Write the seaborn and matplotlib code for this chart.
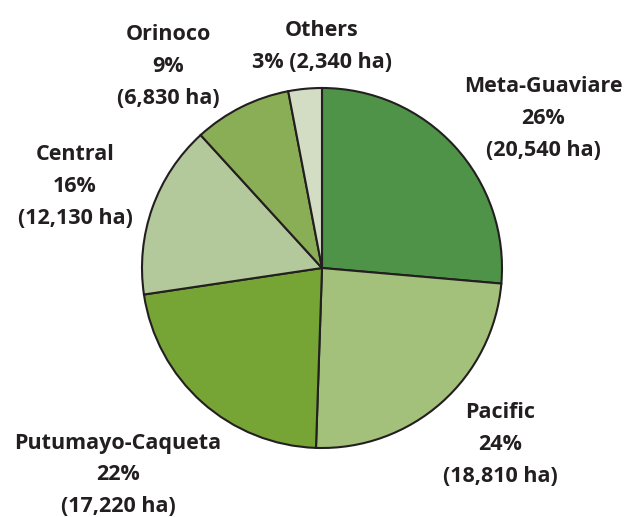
import matplotlib
matplotlib.use("Agg")
import matplotlib.pyplot as plt
import seaborn as sns

# Data
regions = ["Meta-Guaviare", "Pacific", "Putumayo-Caqueta", "Central", "Orinoco", "Others"]
hectares = [20540, 18810, 17220, 12130, 6830, 2340]
percents = [26, 24, 22, 16, 9, 3]
colors = ["#4f9348", "#a3c17a", "#76a536", "#b4c99b", "#8aae55", "#d3ddc4"]

sns.set_theme(style="white")
plt.rcParams["font.family"] = ["Open Sans", "DejaVu Sans"]

fig = plt.figure(figsize=(6.29, 5.17), dpi=100)
ax = fig.add_axes([0, 0, 1, 1])

# pie drawn with y flipped: counterclock=True gives clockwise on screen
ax.pie(hectares, colors=colors, startangle=-90, counterclock=True,
       center=(322, 268), radius=180, frame=True,
       wedgeprops=dict(edgecolor="#231f20", linewidth=1.5))
ax.set_xlim(0, 629)
ax.set_ylim(517, 0)
ax.set_aspect("equal")
ax.axis("off")

# label anchor (center x, first-line y) in pixels
label_pos = {
    "Meta-Guaviare": (543, 86),
    "Pacific": (500, 412),
    "Putumayo-Caqueta": (118, 443),
    "Central": (75, 155),
    "Orinoco": (168, 35),
}
for name, ha_val, pct in zip(regions, hectares, percents):
    if name == "Others":
        lines = [name, f"{pct}% ({ha_val:,} ha)"]
        x, y = 322, 30
    else:
        lines = [name, f"{pct}%", f"({ha_val:,} ha)"]
        x, y = label_pos[name]
    for i, line in enumerate(lines):
        ax.text(x, y + i * 32, line, ha="center", va="center",
                fontsize=15.5, fontweight="bold", color="#231f20")

fig.savefig("out.png", dpi=100)
